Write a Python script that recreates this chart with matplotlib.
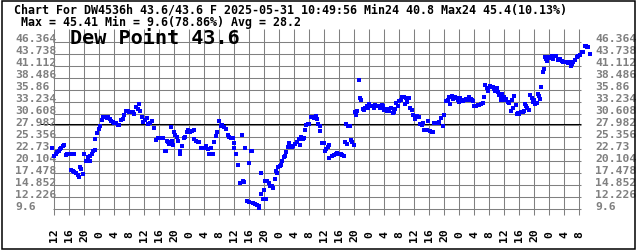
import matplotlib
matplotlib.use("Agg")
import matplotlib.pyplot as plt
from matplotlib.patches import Rectangle
import matplotlib.transforms as mtransforms

# ---------------- data ----------------
hours = [
    -0.53, 0.0, 0.37, 0.8, 1.17, 1.52, 1.87, 2.24, 2.59, 3.04, 3.47, 3.92, 4.37, 4.8, 5.17,
    4.45, 4.91, 5.33, 5.79, 6.24, 6.67, 6.93, 7.2, 7.65, 8.0, 8.37, 8.72, 9.07, 9.44, 9.6,
    10.05, 10.4, 10.77, 10.93, 11.39, 11.84, 12.27, 12.64, 13.07, 13.52, 13.97, 14.4, 14.85,
    15.12, 15.57, 16.0, 16.45, 16.91, 17.33, 17.71, 18.24, 18.67, 19.12, 19.57, 20.0, 20.45,
    20.91, 21.33, 21.79, 22.24, 22.59, 22.85, 23.31, 23.73, 24.19, 24.64, 25.07, 25.52, 25.97,
    26.67, 27.04, 27.57, 28.0, 28.45, 28.99, 29.44, 29.79, 30.05, 30.4, 30.67, 31.04, 31.31,
    31.73, 32.0, 32.27, 32.72, 33.07, 33.44, 33.6, 33.97, 34.51, 34.85, 35.31, 35.73, 36.19,
    36.64, 37.17, 37.33, 37.79, 38.24, 38.67, 39.12, 39.57, 40.0, 40.45, 40.91, 41.33, 41.79,
    42.24, 42.67, 43.12, 43.47, 43.92, 44.37, 44.8, 45.25, 45.71, 46.24, 46.67, 47.12, 47.57,
    47.84, 48.0, 48.45, 49.07, 49.97, 49.52, 50.24, 50.59, 50.93, 51.47, 52.0, 52.0, 52.37,
    52.64, 53.07, 53.6, 53.97, 54.51, 54.67, 55.04, 55.2, 55.57, 55.92, 56.11, 56.45, 56.8,
    57.17, 57.52, 58.05, 58.4, 58.77, 59.04, 59.39, 59.73, 60.11, 60.45, 60.8, 61.17, 61.52,
    61.87, 62.24, 62.59, 62.93, 63.39, 63.73, 64.27, 64.72, 65.17, 65.6, 65.87, 66.24, 66.51,
    66.85, 67.2, 67.57, 68.0, 68.45, 68.91, 69.33, 69.71, 69.97, 70.32, 70.77, 70.93, 71.39,
    71.84, 72.27, 72.53, 72.91, 73.25, 73.33, 74.11, 74.56, 75.01, 75.47, 75.89, 76.35, 76.8,
    77.23, 77.49, 77.95, 77.87, 78.4, 78.83, 79.01, 79.47, 79.89, 80.08, 80.43, 80.69, 81.15,
    81.49, 81.87, 82.24, 82.67, 82.93, 83.31, 83.73, 84.0, 84.37, 84.8, 85.25, 85.52, 85.97,
    86.4, 86.85, 87.31, 87.65, 88.0, 88.37, 88.72, 88.99, 89.33, 89.71, 90.24, 90.51, 90.85,
    91.12, 91.57, 91.92, 92.37, 92.8, 93.25, 93.71, 93.6, 94.05, 94.59, 94.93, 95.39, 95.73,
    96.27, 96.72, 97.17, 97.52, 97.97, 98.32, 98.67, 98.85, 99.31, 99.73, 100.19, 100.64,
    101.07, 101.33, 101.79, 102.24, 102.67, 103.12, 103.57, 104.0, 104.45, 104.91, 105.33,
    105.6, 105.97, 106.4, 106.85, 107.12, 107.57, 107.92, 108.19, 108.53, 108.91, 109.33,
    109.79, 110.24, 110.67, 111.04, 111.47, 111.73, 112.0, 112.45, 112.91, 113.33, 113.79,
    114.24, 114.67, 114.93, 115.31, 115.65, 116.11, 116.45, 116.91, 117.25, 117.6, 117.97,
    118.32, 118.67, 119.12, 119.47, 119.92, 119.47, 119.12, 120.0, 120.45, 120.91, 121.33,
    121.71, 121.97, 122.4, 122.67, 123.04, 123.39, 123.73, 124.0, 124.45, 124.91, 125.33,
    125.52, 125.79, 126.13, 126.59, 126.93, 127.31, 127.73, 128.0, 128.19, 128.64, 128.91,
    129.25, 129.52, 129.87, 130.4, 130.67, 130.85, 131.12, 131.39, 131.73, 132.19, 132.64,
    132.91, 133.33, 133.79, 134.4, 134.85, 135.31, 135.73, 136.19, 136.64, 137.07, 137.33,
    137.71, 137.97, 138.4, 138.85, 139.31, 139.73, 140.19, 140.64, 141.07, 141.52, 141.79,
    141.97, 142.4, 142.85,
]
dew_point = [
    23.04, 21.35, 21.73, 22.1, 22.45, 22.82, 23.11, 23.42, 23.7, 21.51, 21.79, 21.66, 21.73, 21.73, 21.73,
    18.22, 18.06, 17.85, 17.63, 17.19, 16.75, 18.81, 18.44, 17.34, 21.66, 20.13, 20.13, 21.0, 20.13, 21.35,
    21.79, 22.32, 22.6, 25.02, 26.27, 27.21, 27.8, 29.25, 29.78, 29.91, 29.56, 29.91, 29.4,
    29.03, 28.68, 28.53, 28.46, 28.15, 28.09, 29.25, 29.4, 30.28, 31.22, 31.16, 31.0, 30.87,
    31.0, 30.5, 32.1, 31.6, 32.69, 31.22, 29.78, 28.81, 29.25, 29.56, 28.31, 28.53, 29.03,
    27.36, 24.8, 25.17, 25.24, 25.24, 25.17, 22.39, 22.39, 24.64, 24.29, 23.85, 27.58, 24.64,
    23.7, 26.62, 25.96, 25.52, 24.64, 22.39, 21.66, 23.55, 25.17, 25.39, 26.49, 27.06, 26.49,
    26.84, 27.06, 25.02, 24.64, 24.42, 24.29, 23.11, 23.04, 22.98, 23.55, 22.82, 21.66, 22.98,
    21.66, 24.29, 25.74, 26.49, 28.9, 27.8, 28.09, 27.65, 27.21, 25.89, 25.39, 25.24, 25.17,
    24.07, 23.11, 21.66, 19.25, 25.96, 15.37, 15.87, 15.65, 23.04, 11.42, 11.27, 19.75, 22.45,
    22.32, 10.92, 10.76, 10.61, 10.39, 9.82, 17.49, 12.89, 11.92, 13.77, 15.87, 11.92, 15.87,
    15.37, 14.78, 14.64, 14.27, 16.24, 17.93, 17.49, 18.81, 19.16, 19.38, 20.26, 21.0, 21.29,
    22.1, 23.33, 24.07, 23.2, 23.2, 23.55, 23.92, 24.42, 25.02, 23.77, 25.39, 25.02, 25.24,
    27.06, 28.15, 28.31, 28.31, 29.78, 29.78, 29.56, 29.99, 29.4, 28.31, 26.71, 27.8, 24.14,
    24.21, 22.45, 22.82, 23.2, 23.7, 20.78, 21.22, 21.57, 21.79, 21.95, 21.79, 21.66, 21.51,
    21.35, 24.29, 23.85, 28.31, 27.93, 27.8, 24.8, 24.29, 23.7, 30.87, 30.28, 31.09, 37.96,
    34.07, 33.64, 31.57, 31.38, 31.88, 32.32, 31.75, 32.69, 32.32, 32.19, 31.75, 32.54, 32.19,
    32.32, 31.88, 32.47, 32.19, 31.42, 31.6, 31.09, 31.6, 31.22, 31.82, 30.72, 31.0, 31.6,
    32.84, 32.25, 33.42, 33.64, 34.16, 34.16, 34.07, 32.69, 33.2, 33.94, 31.88, 31.44, 30.28,
    29.4, 29.99, 29.78, 28.37, 28.09, 28.53, 26.99, 27.06, 27.06, 29.03, 26.84, 26.62,
    26.49, 28.53, 28.53, 28.53, 28.81, 29.56, 27.93, 30.28, 33.42, 33.64, 34.16,
    32.69, 34.38, 33.79, 34.16, 33.94, 33.64, 33.2, 33.94, 33.57, 33.42, 33.64,
    33.79, 33.64, 34.29, 33.79, 33.64, 33.42, 32.19, 32.32, 32.47, 32.41, 32.69,
    32.91, 34.16, 36.86, 36.14, 35.61, 36.57, 36.35, 36.35, 35.98, 35.61, 36.14,
    35.39, 34.67, 34.51, 34.89, 34.16, 33.64, 33.64, 33.64, 33.79, 33.2, 32.91,
    31.22, 33.64, 31.75, 34.38, 32.47, 30.43, 30.72, 30.5, 31.0, 31.0, 31.09,
    32.62, 32.19, 31.75, 31.38, 34.73, 33.94, 33.07, 33.64, 32.69, 32.91, 34.89,
    34.51, 33.79, 36.35, 39.64, 40.37, 42.93, 42.56, 42.19, 42.93, 42.71, 43.15,
    42.56, 43.15, 43.28, 42.41, 42.56, 42.19, 41.97, 41.84, 41.97, 41.68, 41.97,
    40.96, 41.46, 41.97, 42.41, 42.93, 43.28, 43.44, 44.03, 44.16, 45.4, 45.41,
    45.13, 45.13, 43.6,
]
y_ticks = [9.6, 12.226, 14.852, 17.478, 20.104, 22.73, 25.356, 27.982,
           30.608, 33.234, 35.86, 38.486, 41.112, 43.738, 46.364]
y_tick_labels = ["9.6", "12.226", "14.852", "17.478", "20.104", "22.73", "25.356", "27.982",
                 "30.608", "33.234", "35.86", "38.486", "41.112", "43.738", "46.364"]
x_ticks = list(range(0, 141, 4))
x_tick_labels = [str((12 + h) % 24) for h in x_ticks]
average = 28.2

title1 = "Chart For DW4536h 43.6/43.6 F 2025-05-31 10:49:56 Min24 40.8 Max24 45.4(10.13%)"
title2 = "Max = 45.41 Min = 9.6(78.86%) Avg = 28.2"
big_label = "Dew Point 43.6"

# ---------------- layout ----------------
W, H = 636, 251
fig = plt.figure(figsize=(W / 100, H / 100), dpi=100)
fig.patch.set_facecolor("white")
ax = fig.add_axes([0, 0, 1, 1])
ax.set_axis_off()

x0_px, px_per_h = 54.3, 3.75
y0_px, px_per_v = 210.3, 4.56  # pixel row (from top) of value 9.6


def hx(px):
    return (px - x0_px) / px_per_h


def vy(py):
    return 9.6 + (y0_px - py) / px_per_v


ax.set_xlim(hx(0), hx(W))
ax.set_ylim(vy(H), vy(0))

grid_c = "#808080"
lw = 0.75
ax.vlines(x_ticks, vy(216), vy(30), colors=grid_c, linewidth=lw, zorder=1)
ax.hlines(y_ticks, hx(53), hx(580.5), colors=grid_c, linewidth=lw, zorder=1)
ax.hlines([average], hx(40), hx(580.5), colors="black", linewidth=lw, zorder=2)

ax.plot(hours, dew_point, linestyle="none", marker="s", markersize=2.3,
        markerfacecolor="#0000ff", markeredgewidth=0, zorder=3)

mono = "DejaVu Sans Mono"
lab_c = "#808080"
up = mtransforms.offset_copy(ax.transData, fig=fig, x=0, y=3.3, units="dots")
for v, s in zip(y_ticks, y_tick_labels):
    ax.text(hx(15), v, s, transform=up, ha="left", va="center", family=mono,
            fontsize=8.2, fontweight="bold", color=lab_c, zorder=2)
    ax.text(hx(595), v, s, transform=up, ha="left", va="center", family=mono,
            fontsize=8.2, fontweight="bold", color=lab_c, zorder=2)

for h, s in zip(x_ticks, x_tick_labels):
    ax.text(h, vy(235), s, ha="center", va="center", rotation=90, family=mono,
            fontsize=8.2, fontweight="bold", color="black")

ax.text(hx(14), vy(10), title1, ha="left", va="center", family=mono,
        fontsize=8.35, fontweight="bold", color="black")
ax.text(hx(21.5), vy(22.5), title2, ha="left", va="center", family=mono,
        fontsize=8.35, fontweight="bold", color="black")
ax.text(hx(70), vy(39), big_label, ha="left", va="center", family=mono,
        fontsize=14.5, fontweight="bold", color="black", zorder=4)

fig.patches.append(Rectangle((1.5 / W, 1.5 / H), (W - 3) / W, (H - 3) / H,
                             transform=fig.transFigure, fill=False,
                             edgecolor="black", linewidth=1.1))

fig.savefig("out.png", dpi=100, facecolor="white")
